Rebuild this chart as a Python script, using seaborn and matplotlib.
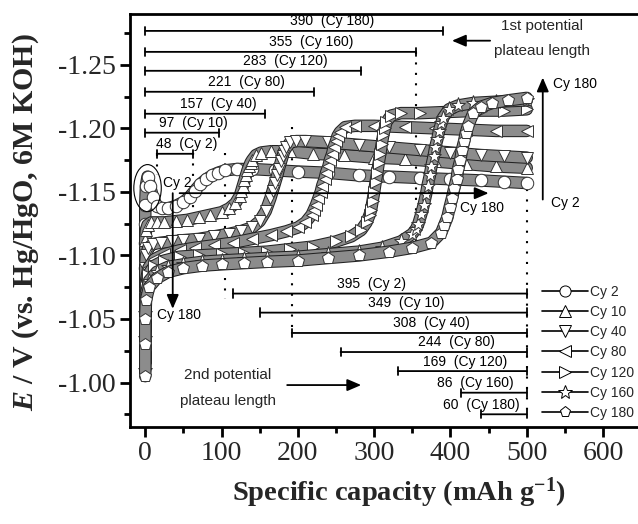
import numpy as np
import pandas as pd
import matplotlib
matplotlib.use("Agg")
import matplotlib.pyplot as plt
import matplotlib.patheffects as pe
from matplotlib.lines import Line2D
from matplotlib.patches import Ellipse
from matplotlib.ticker import MultipleLocator, FormatStrFormatter
import seaborn as sns

# ---------------- data ----------------
cycles = ["Cy 2", "Cy 10", "Cy 40", "Cy 80", "Cy 120", "Cy 160", "Cy 180"]

x_cy2 = [0, 0, 0, 0, 1, 3, 6, 10, 15, 22, 30, 40, 50, 58, 65, 72, 80, 88, 95, 105, 120, 140, 170, 200, 240, 280, 320, 360, 400, 440, 470, 500]
y_cy2 = [-1.09, -1.11, -1.125, -1.14, -1.155, -1.162, -1.155, -1.146, -1.139, -1.137, -1.137, -1.139, -1.142, -1.146, -1.151, -1.156, -1.160, -1.163, -1.165, -1.167, -1.168, -1.168, -1.167, -1.166, -1.165, -1.163, -1.162, -1.161, -1.160, -1.159, -1.158, -1.157]

x_cy10 = [0, 0, 0, 0, 1, 3, 8, 15, 25, 40, 55, 70, 85, 100, 110, 118, 124, 126, 128, 130, 132, 134, 136, 138, 140, 145, 152, 165, 190, 220, 260, 300, 340, 380, 420, 460, 500]
y_cy10 = [-1.06, -1.085, -1.10, -1.112, -1.12, -1.124, -1.126, -1.126, -1.126, -1.127, -1.128, -1.130, -1.132, -1.134, -1.137, -1.141, -1.147, -1.151, -1.155, -1.159, -1.163, -1.167, -1.170, -1.173, -1.175, -1.179, -1.181, -1.182, -1.182, -1.180, -1.179, -1.177, -1.176, -1.174, -1.172, -1.170, -1.169]

x_cy40 = [0, 0, 0, 1, 4, 10, 20, 35, 50, 70, 90, 110, 125, 140, 150, 158, 164, 167, 170, 173, 175, 178, 180, 182, 185, 190, 198, 210, 240, 280, 320, 360, 400, 440, 470, 500]
y_cy40 = [-1.05, -1.07, -1.09, -1.10, -1.106, -1.109, -1.110, -1.111, -1.112, -1.113, -1.115, -1.117, -1.119, -1.122, -1.127, -1.135, -1.145, -1.151, -1.157, -1.163, -1.168, -1.174, -1.178, -1.182, -1.185, -1.189, -1.190, -1.190, -1.189, -1.187, -1.185, -1.183, -1.181, -1.179, -1.178, -1.177]

x_cy80 = [0, 0, 0, 1, 4, 12, 25, 45, 65, 90, 115, 140, 165, 185, 200, 210, 218, 221, 224, 227, 230, 232, 235, 237, 240, 242, 245, 247, 250, 252, 255, 262, 275, 300, 340, 380, 420, 460, 500]
y_cy80 = [-1.02, -1.045, -1.065, -1.08, -1.09, -1.097, -1.101, -1.104, -1.106, -1.108, -1.110, -1.113, -1.116, -1.119, -1.122, -1.126, -1.132, -1.136, -1.140, -1.145, -1.150, -1.155, -1.160, -1.165, -1.170, -1.175, -1.180, -1.185, -1.190, -1.194, -1.197, -1.201, -1.202, -1.202, -1.201, -1.200, -1.199, -1.198, -1.198]

x_cy120 = [0, 0, 0, 1, 4, 12, 25, 45, 70, 100, 130, 160, 190, 220, 250, 270, 283, 290, 294, 296, 298, 300, 302, 304, 306, 308, 310, 312, 314, 316, 322, 335, 360, 400, 440, 470, 500]
y_cy120 = [-1.015, -1.04, -1.06, -1.075, -1.085, -1.092, -1.096, -1.099, -1.100, -1.101, -1.102, -1.103, -1.105, -1.107, -1.111, -1.115, -1.120, -1.126, -1.132, -1.136, -1.143, -1.150, -1.158, -1.165, -1.173, -1.180, -1.188, -1.195, -1.200, -1.205, -1.210, -1.212, -1.212, -1.213, -1.214, -1.214, -1.215]

x_cy160 = [0, 0, 0, 1, 5, 15, 30, 50, 75, 100, 130, 160, 200, 240, 280, 310, 335, 350, 355, 358, 362, 365, 368, 370, 373, 375, 378, 380, 383, 385, 388, 390, 398, 410, 430, 460, 500]
y_cy160 = [-1.01, -1.035, -1.055, -1.07, -1.08, -1.087, -1.091, -1.093, -1.095, -1.096, -1.097, -1.098, -1.099, -1.101, -1.103, -1.106, -1.111, -1.117, -1.121, -1.125, -1.133, -1.140, -1.148, -1.155, -1.163, -1.170, -1.178, -1.185, -1.192, -1.198, -1.204, -1.208, -1.215, -1.218, -1.220, -1.221, -1.222]

x_cy180 = [0, 0, 0, 1, 5, 15, 30, 50, 75, 100, 130, 160, 200, 240, 280, 320, 350, 375, 388, 392, 396, 399, 402, 405, 408, 410, 413, 415, 418, 420, 423, 430, 440, 455, 475, 500]
y_cy180 = [-1.005, -1.03, -1.05, -1.065, -1.075, -1.082, -1.087, -1.090, -1.092, -1.093, -1.094, -1.095, -1.096, -1.098, -1.100, -1.103, -1.106, -1.110, -1.118, -1.124, -1.130, -1.138, -1.145, -1.153, -1.160, -1.168, -1.175, -1.183, -1.190, -1.196, -1.202, -1.212, -1.217, -1.220, -1.222, -1.224]

# plateau lengths
first_len = [48, 97, 157, 221, 283, 355, 390]
first_start = [15, 0, 0, 0, 0, 0, 0]
second_len = [395, 349, 308, 244, 169, 86, 60]
plateau_end = 500

# ---------------- style ----------------
sns.set_theme(style="ticks")
plt.rcParams["axes.unicode_minus"] = False
plt.rcParams["mathtext.fontset"] = "custom"
plt.rcParams["mathtext.rm"] = "Liberation Serif:bold"
plt.rcParams["mathtext.it"] = "Liberation Serif:italic:bold"
plt.rcParams["mathtext.bf"] = "Liberation Serif:bold"

fig = plt.figure(figsize=(6.38, 5.24), dpi=100)
ax = fig.add_axes([130 / 638, 1 - 427 / 524, 515 / 638, 413 / 524])

xs = [x_cy2, x_cy10, x_cy40, x_cy80, x_cy120, x_cy160, x_cy180]
ys = [y_cy2, y_cy10, y_cy40, y_cy80, y_cy120, y_cy160, y_cy180]
marker_list = ["o", "^", "v", "<", ">", "*", "p"]
msizes = [9, 9, 9, 9, 9, 11, 9]

for i, (xx, yy) in enumerate(zip(xs, ys)):
    df = pd.DataFrame({"x": xx, "y": yy})
    sns.lineplot(data=df, x="x", y="y", ax=ax, sort=False, estimator=None,
                 color="#8c8c8c", linewidth=7.5, zorder=2 + 2 * i,
                 path_effects=[pe.Stroke(linewidth=9, foreground="#222222"), pe.Normal()])
    sns.lineplot(data=df, x="x", y="y", ax=ax, sort=False, estimator=None,
                 linestyle="none", marker=marker_list[i], markersize=msizes[i],
                 markerfacecolor="white", markeredgecolor="#333333", markeredgewidth=0.7,
                 zorder=3 + 2 * i)

ax.set_xlim(-20, 655)
ax.set_ylim(-0.965, -1.29)
ax.xaxis.set_major_locator(MultipleLocator(100))
ax.xaxis.set_minor_locator(MultipleLocator(50))
ax.yaxis.set_major_locator(MultipleLocator(0.05))
ax.yaxis.set_minor_locator(MultipleLocator(0.025))
ax.yaxis.set_major_formatter(FormatStrFormatter("%.2f"))
ax.set_xlabel("")
ax.set_ylabel("")
for s in ax.spines.values():
    s.set_linewidth(2)
    s.set_color("black")
ax.tick_params(which="major", direction="out", length=7, width=2, color="black",
               labelsize=20, pad=3)
ax.tick_params(which="minor", direction="out", length=4, width=2, color="black")
for lab in ax.get_xticklabels() + ax.get_yticklabels():
    lab.set_fontfamily("Liberation Serif")

ann_font = dict(fontsize=10, family="Liberation Sans", color="black")
cap = "|-|, widthA=0.25, widthB=0.25"

# first plateau brackets
first_y = [-1.1800, -1.1966, -1.2115, -1.2288, -1.2453, -1.2602, -1.2767]
first_lab_x = [54, 63, 96, 133, 183, 218, 245]
for i in range(7):
    y = first_y[i]
    x0 = first_start[i]
    x1 = first_start[i] + first_len[i]
    ax.annotate("", xy=(x0, y), xytext=(x1, y),
                arrowprops=dict(arrowstyle=cap, lw=1.3, color="black", shrinkA=0, shrinkB=0))
    ax.text(first_lab_x[i], y - 0.0075, f"{first_len[i]}  ({cycles[i]})",
            ha="center", va="center", **ann_font)

# second plateau brackets
second_y = [-1.070, -1.055, -1.039, -1.024, -1.009, -0.992, -0.975]
second_lab_x = [296, 342, 375, 408, 419, 433, 440]
for i in range(7):
    y = second_y[i]
    x0 = plateau_end - second_len[i] + (10 if i == 0 else 0)
    ax.annotate("", xy=(x0, y), xytext=(plateau_end, y),
                arrowprops=dict(arrowstyle=cap, lw=1.3, color="black", shrinkA=0, shrinkB=0))
    ax.text(second_lab_x[i], y - 0.0075, f"{second_len[i]}  ({cycles[i]})",
            ha="center", va="center", **ann_font)

# dotted guide lines
dot_x = [15, 63, 105, 192, 355, 500]
dot_top = [-1.180, -1.181, -1.181, -1.201, -1.260, -1.152]
dot_bot = [-1.163, -1.134, -1.066, -1.039, -1.097, -0.975]
for xx, t, b in zip(dot_x, dot_top, dot_bot):
    ax.plot([xx, xx], [t, b], color="black", lw=1.5, linestyle=(0, (1, 4)), zorder=1)

# ellipse
ax.add_patch(Ellipse((3, -1.153), 36, 0.037, fill=False, lw=0.8, color="black", zorder=20))

# arrows and notes
arw = dict(arrowstyle="-|>,head_width=0.3,head_length=0.7", lw=1.3, color="black", shrinkA=0, shrinkB=0)
ax.annotate("", xy=(402, -1.269), xytext=(452, -1.269), arrowprops=arw, zorder=30)
ax.text(520, -1.2705, "1st potential\nplateau length", ha="center", va="center",
        fontsize=11, family="Liberation Sans", linespacing=2.0)

ax.annotate("", xy=(521, -1.240), xytext=(521, -1.144), arrowprops=arw, zorder=30)
ax.text(534, -1.235, "Cy 180", ha="left", va="center", **ann_font)
ax.text(532, -1.141, "Cy 2", ha="left", va="center", **ann_font)

ax.annotate("", xy=(450, -1.149), xytext=(45, -1.149), arrowprops=arw, zorder=30)
ax.text(23, -1.157, "Cy 2", ha="left", va="center", zorder=31, **ann_font)
ax.text(412, -1.137, "Cy 180", ha="left", va="center", **ann_font)

ax.annotate("", xy=(36, -1.058), xytext=(36, -1.149), arrowprops=arw, zorder=30)
ax.text(15, -1.053, "Cy 180", ha="left", va="center", zorder=31, **ann_font)

ax.text(108, -0.9955, "2nd potential\nplateau length", ha="center", va="center",
        fontsize=11, family="Liberation Sans", linespacing=2.05)
ax.annotate("", xy=(283, -0.998), xytext=(186, -0.998), arrowprops=arw)

# legend
handles = [Line2D([0], [0], color="black", lw=1.2, marker=m, markersize=ms - 1,
                  markerfacecolor="white", markeredgecolor="black", markeredgewidth=0.7)
           for m, ms in zip(marker_list, msizes)]
ax.legend(handles, cycles, loc="upper left", bbox_to_anchor=(0.80, 0.345),
          frameon=False, handlelength=3.3, handletextpad=0.12, labelspacing=0.45,
          borderpad=0, borderaxespad=0, prop={"family": "Liberation Sans", "size": 10})

# axis labels
fig.text(399 / 638, 1 - 493 / 524, r"Specific capacity (mAh g$^{\mathbf{-1}}$)",
         ha="center", va="center", fontsize=20.5, fontweight="bold", family="Liberation Serif")
fig.text(26 / 638, 1 - 222 / 524, r"$\mathit{E}$ / V (vs. Hg/HgO, 6M KOH)",
         ha="center", va="center", rotation=90, fontsize=21.5, fontweight="bold",
         family="Liberation Serif")

fig.savefig("out.png", dpi=100)
